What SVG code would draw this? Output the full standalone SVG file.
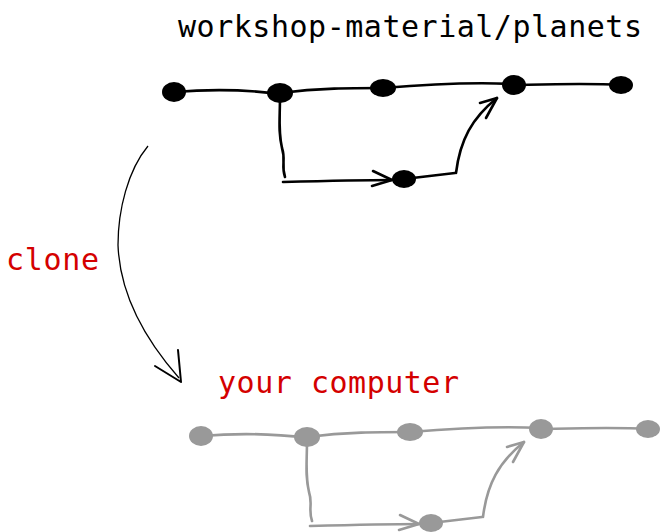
<svg xmlns="http://www.w3.org/2000/svg" width="662" height="532" viewBox="0 0 662 532">
<style>
.t{font-family:"DejaVu Sans Mono","Liberation Mono",monospace;font-size:30px}
.red{fill:#d40000}
.ln{fill:none;stroke-width:2.6;stroke-linecap:round;stroke-linejoin:round}
.blk .ln{stroke:#000}
.blk .nd{fill:#000}
.gry .ln{stroke:#999}
.gry .nd{fill:#999}
</style>
<rect width="662" height="532" fill="#fff"/>
<text class="t" x="178" y="37" textLength="464">workshop-material/planets</text>
<text class="t red" x="6" y="270" textLength="93">clone</text>
<text class="t red" x="218" y="393" textLength="241">your computer</text>

<g id="connectors">
  <path d="M148,146 C128,170 118,210 118,245 C120,300 150,345 179,378" fill="none" stroke="#000" stroke-width="1.3"/>
  <path d="M155,366 L181,382 L178,350" fill="none" stroke="#000" stroke-width="2" stroke-linecap="round" stroke-linejoin="round"/>
</g>

<g id="remote" class="blk">
  <g class="ln">
    <path d="M174,92 C210,89 250,90 280,94"/>
    <path d="M280,93 C320,88 350,88 383,88"/>
    <path d="M383,88 C430,84 470,82 514,84"/>
    <path d="M514,85 C560,84 590,83 621,85"/>
    <path d="M280,95 C280,120 278,130 282,148 C286,160 281,165 285,177"/>
    <path d="M283,182 C320,181 360,180 392,180"/>
    <path d="M373,171 L392,180 L372,186"/>
    <path d="M404,179 L455,173"/>
    <path d="M456,173 C460,140 472,118 497,98"/>
    <path d="M480,103 L497,98 L486,118"/>
  </g>
  <g id="r1"><ellipse class="nd" cx="174" cy="92" rx="12" ry="10"/></g>
  <g id="r2"><ellipse class="nd" cx="280" cy="93" rx="13" ry="10"/></g>
  <g id="r3"><ellipse class="nd" cx="383" cy="88" rx="13" ry="9"/></g>
  <g id="r4"><ellipse class="nd" cx="514" cy="85" rx="12" ry="10"/></g>
  <g id="r5"><ellipse class="nd" cx="621" cy="85" rx="12" ry="9"/></g>
  <g id="r6"><ellipse class="nd" cx="404" cy="179" rx="12" ry="9"/></g>
</g>

<g id="local" class="gry" transform="translate(27,344)">
  <g class="ln">
    <path d="M174,92 C210,89 250,90 280,94"/>
    <path d="M280,93 C320,88 350,88 383,88"/>
    <path d="M383,88 C430,84 470,82 514,84"/>
    <path d="M514,85 C560,84 590,83 621,85"/>
    <path d="M280,95 C280,120 278,130 282,148 C286,160 281,165 285,177"/>
    <path d="M283,182 C320,181 360,180 392,180"/>
    <path d="M373,171 L392,180 L372,186"/>
    <path d="M404,179 L455,173"/>
    <path d="M456,173 C460,140 472,118 497,98"/>
    <path d="M480,103 L497,98 L486,118"/>
  </g>
  <g id="l1"><ellipse class="nd" cx="174" cy="92" rx="12" ry="10"/></g>
  <g id="l2"><ellipse class="nd" cx="280" cy="93" rx="13" ry="10"/></g>
  <g id="l3"><ellipse class="nd" cx="383" cy="88" rx="13" ry="9"/></g>
  <g id="l4"><ellipse class="nd" cx="514" cy="85" rx="12" ry="10"/></g>
  <g id="l5"><ellipse class="nd" cx="621" cy="85" rx="12" ry="9"/></g>
  <g id="l6"><ellipse class="nd" cx="404" cy="179" rx="12" ry="9"/></g>
</g>
</svg>
